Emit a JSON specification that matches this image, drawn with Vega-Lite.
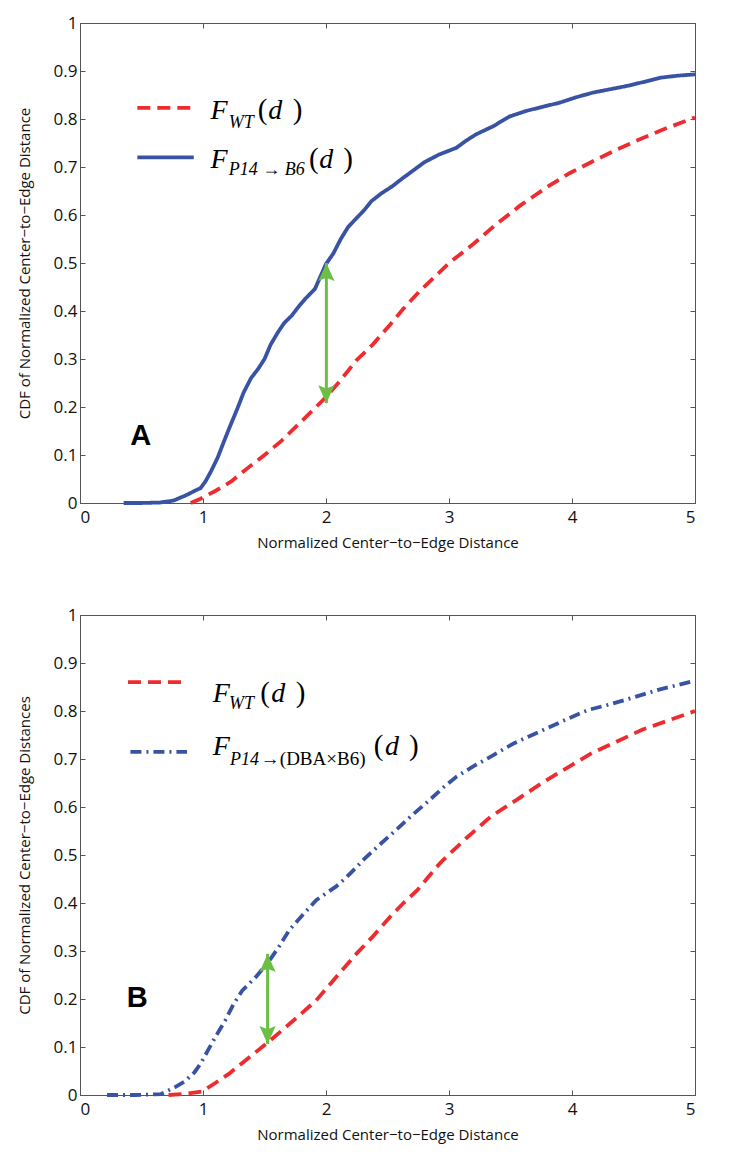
{
  "$schema": "https://vega.github.io/schema/vega-lite/v6.json",
  "padding": {"left": 16, "top": 13, "right": 5, "bottom": 5},
  "spacing": 54,
  "config": {
    "view": {"stroke": "#555", "strokeWidth": 1},
    "axis": {"grid": false, "domainColor": "#555", "tickColor": "#555", "tickSize": -5, "labelFont": "Open Sans", "labelFontSize": 17, "labelColor": "#111", "titleFont": "Open Sans", "titleFontSize": 15, "titleFontWeight": "normal", "titleColor": "#111"}
  },
  "vconcat": [
    {
      "width": 615,
      "height": 480,
      "layer": [
        {
          "data": {"values": [
            {"s":"P14","k":"c","x":0.355,"y":0},{"s":"P14","k":"c","x":0.5,"y":0},{"s":"P14","k":"c","x":0.65,"y":0.001},{"s":"P14","k":"c","x":0.76,"y":0.005},{"s":"P14","k":"c","x":0.87,"y":0.017},{"s":"P14","k":"c","x":0.93,"y":0.025},{"s":"P14","k":"c","x":0.98,"y":0.031},{"s":"P14","k":"c","x":1.02,"y":0.045},{"s":"P14","k":"c","x":1.065,"y":0.066},{"s":"P14","k":"c","x":1.12,"y":0.095},{"s":"P14","k":"c","x":1.17,"y":0.128},{"s":"P14","k":"c","x":1.22,"y":0.16},{"s":"P14","k":"c","x":1.28,"y":0.197},{"s":"P14","k":"c","x":1.33,"y":0.23},{"s":"P14","k":"c","x":1.39,"y":0.26},{"s":"P14","k":"c","x":1.45,"y":0.28},{"s":"P14","k":"c","x":1.5,"y":0.3},{"s":"P14","k":"c","x":1.55,"y":0.33},{"s":"P14","k":"c","x":1.61,"y":0.356},{"s":"P14","k":"c","x":1.66,"y":0.375},{"s":"P14","k":"c","x":1.72,"y":0.39},{"s":"P14","k":"c","x":1.78,"y":0.41},{"s":"P14","k":"c","x":1.83,"y":0.425},{"s":"P14","k":"c","x":1.91,"y":0.446},{"s":"P14","k":"c","x":1.96,"y":0.475},{"s":"P14","k":"c","x":2.0,"y":0.498},{"s":"P14","k":"c","x":2.06,"y":0.52},{"s":"P14","k":"c","x":2.12,"y":0.55},{"s":"P14","k":"c","x":2.18,"y":0.575},{"s":"P14","k":"c","x":2.25,"y":0.594},{"s":"P14","k":"c","x":2.31,"y":0.61},{"s":"P14","k":"c","x":2.37,"y":0.629},{"s":"P14","k":"c","x":2.45,"y":0.645},{"s":"P14","k":"c","x":2.54,"y":0.66},{"s":"P14","k":"c","x":2.62,"y":0.676},{"s":"P14","k":"c","x":2.7,"y":0.691},{"s":"P14","k":"c","x":2.8,"y":0.71},{"s":"P14","k":"c","x":2.92,"y":0.726},{"s":"P14","k":"c","x":3.06,"y":0.74},{"s":"P14","k":"c","x":3.14,"y":0.755},{"s":"P14","k":"c","x":3.22,"y":0.768},{"s":"P14","k":"c","x":3.36,"y":0.785},{"s":"P14","k":"c","x":3.49,"y":0.805},{"s":"P14","k":"c","x":3.63,"y":0.817},{"s":"P14","k":"c","x":3.77,"y":0.826},{"s":"P14","k":"c","x":3.9,"y":0.834},{"s":"P14","k":"c","x":4.03,"y":0.845},{"s":"P14","k":"c","x":4.17,"y":0.855},{"s":"P14","k":"c","x":4.31,"y":0.862},{"s":"P14","k":"c","x":4.45,"y":0.869},{"s":"P14","k":"c","x":4.58,"y":0.877},{"s":"P14","k":"c","x":4.72,"y":0.886},{"s":"P14","k":"c","x":4.85,"y":0.89},{"s":"P14","k":"c","x":5.0,"y":0.893},
            {"s":"WT","k":"c","x":0.9,"y":0},{"s":"WT","k":"c","x":0.98,"y":0.009},{"s":"WT","k":"c","x":1.1,"y":0.025},{"s":"WT","k":"c","x":1.23,"y":0.045},{"s":"WT","k":"c","x":1.35,"y":0.07},{"s":"WT","k":"c","x":1.5,"y":0.1},{"s":"WT","k":"c","x":1.64,"y":0.13},{"s":"WT","k":"c","x":1.8,"y":0.17},{"s":"WT","k":"c","x":1.99,"y":0.218},{"s":"WT","k":"c","x":2.1,"y":0.25},{"s":"WT","k":"c","x":2.25,"y":0.298},{"s":"WT","k":"c","x":2.38,"y":0.33},{"s":"WT","k":"c","x":2.51,"y":0.368},{"s":"WT","k":"c","x":2.63,"y":0.405},{"s":"WT","k":"c","x":2.76,"y":0.441},{"s":"WT","k":"c","x":2.88,"y":0.47},{"s":"WT","k":"c","x":3.0,"y":0.5},{"s":"WT","k":"c","x":3.1,"y":0.52},{"s":"WT","k":"c","x":3.2,"y":0.54},{"s":"WT","k":"c","x":3.38,"y":0.58},{"s":"WT","k":"c","x":3.58,"y":0.62},{"s":"WT","k":"c","x":3.79,"y":0.657},{"s":"WT","k":"c","x":3.98,"y":0.687},{"s":"WT","k":"c","x":4.17,"y":0.712},{"s":"WT","k":"c","x":4.37,"y":0.737},{"s":"WT","k":"c","x":4.58,"y":0.761},{"s":"WT","k":"c","x":4.78,"y":0.782},{"s":"WT","k":"c","x":5.0,"y":0.803},
            {"s":"WT","k":"k","x":0.466,"y":0.823},{"s":"WT","k":"k","x":0.925,"y":0.823},
            {"s":"P14","k":"k","x":0.466,"y":0.72},{"s":"P14","k":"k","x":0.925,"y":0.72}
          ]},
          "mark": {"type": "line", "strokeWidth": 3.8, "strokeCap": "butt"},
          "encoding": {
            "x": {"field": "x", "type": "quantitative", "scale": {"domain": [0, 5], "nice": false}, "axis": {"orient": "bottom", "values": [0,1,2,3,4,5], "format": "d", "labelPadding": 11, "title": "Normalized Center−to−Edge Distance", "titlePadding": 10}},
            "y": {"field": "y", "type": "quantitative", "scale": {"domain": [0, 1], "nice": false}, "axis": {"orient": "left", "values": [0,0.1,0.2,0.3,0.4,0.5,0.6,0.7,0.8,0.9,1], "labelExpr": "'' + datum.value", "labelPadding": 8, "title": "CDF  of Normalized Center−to−Edge Distance", "titlePadding": 21}},
            "color": {"field": "s", "type": "nominal", "scale": {"domain": ["WT", "P14", "DBA"], "range": ["#ee2b2f", "#3953a4", "#3953a4"]}, "legend": null},
            "strokeDash": {"field": "s", "type": "nominal", "scale": {"domain": ["WT", "P14", "DBA"], "range": [[13, 7], [1, 0], [11, 5, 2, 5]]}, "legend": null},
            "detail": {"field": "k", "type": "nominal"}
          }
        },
        {
          "data": {"values": [{"x": 2.003, "top": 0.5, "bot": 0.208}]},
          "mark": {"type": "rule", "color": "#6cbe45", "strokeWidth": 3},
          "encoding": {
            "x": {"field": "x", "type": "quantitative", "scale": {"domain": [0, 5], "nice": false}, "axis": {"orient": "top", "values": [0,1,2,3,4,5], "labels": false, "title": null}},
            "y": {"field": "top", "type": "quantitative", "scale": {"domain": [0, 1], "nice": false}, "axis": {"orient": "right", "values": [0,0.1,0.2,0.3,0.4,0.5,0.6,0.7,0.8,0.9,1], "labels": false, "title": null}},
            "y2": {"field": "bot"}
          }
        },
        {
          "data": {"values": [{"x": 2.003, "top": 0.5, "bot": 0.208}]},
          "mark": {"type": "point", "filled": true, "color": "#6cbe45", "opacity": 1, "size": 1296, "shape": "M0,0L0.45,1L0,0.82L-0.45,1Z"},
          "encoding": {
            "x": {"field": "x", "type": "quantitative", "scale": {"domain": [0, 5], "nice": false}, "axis": null},
            "y": {"field": "top", "type": "quantitative", "scale": {"domain": [0, 1], "nice": false}, "axis": null}
          }
        },
        {
          "data": {"values": [{"x": 2.003, "top": 0.5, "bot": 0.208}]},
          "mark": {"type": "point", "filled": true, "color": "#6cbe45", "opacity": 1, "size": 1296, "shape": "M0,0L0.45,-1L0,-0.82L-0.45,-1Z"},
          "encoding": {
            "x": {"field": "x", "type": "quantitative", "scale": {"domain": [0, 5], "nice": false}, "axis": null},
            "y": {"field": "bot", "type": "quantitative", "scale": {"domain": [0, 1], "nice": false}, "axis": null}
          }
        },
        {
          "data": {"values": [{"t":"F","x":1.061,"y":0.8},{"t":"d","x":1.53,"y":0.8},{"t":"F","x":1.061,"y":0.698},{"t":"d","x":1.945,"y":0.698}]},
          "mark": {"type": "text", "font": "Liberation Serif", "fontStyle": "italic", "fontSize": 28, "align": "left", "baseline": "alphabetic", "color": "#000"},
          "encoding": {
            "x": {"field": "x", "type": "quantitative", "scale": {"domain": [0, 5], "nice": false}, "axis": null},
            "y": {"field": "y", "type": "quantitative", "scale": {"domain": [0, 1], "nice": false}, "axis": null},
            "text": {"field": "t"}
          }
        },
        {
          "data": {"values": [{"t":"(","x":1.446,"y":0.8},{"t":")","x":1.73,"y":0.8},{"t":"(","x":1.862,"y":0.698},{"t":")","x":2.14,"y":0.698}]},
          "mark": {"type": "text", "font": "Liberation Serif", "fontSize": 29, "align": "left", "baseline": "alphabetic", "color": "#000"},
          "encoding": {
            "x": {"field": "x", "type": "quantitative", "scale": {"domain": [0, 5], "nice": false}, "axis": null},
            "y": {"field": "y", "type": "quantitative", "scale": {"domain": [0, 1], "nice": false}, "axis": null},
            "text": {"field": "t"}
          }
        },
        {
          "data": {"values": [{"t":"WT","x":1.209,"y":0.781},{"t":"P14 → B6","x":1.209,"y":0.683}]},
          "mark": {"type": "text", "font": "Liberation Serif", "fontStyle": "italic", "fontSize": 18, "align": "left", "baseline": "alphabetic", "color": "#000"},
          "encoding": {
            "x": {"field": "x", "type": "quantitative", "scale": {"domain": [0, 5], "nice": false}, "axis": null},
            "y": {"field": "y", "type": "quantitative", "scale": {"domain": [0, 1], "nice": false}, "axis": null},
            "text": {"field": "t"}
          }
        },
        {
          "data": {"values": [{"t":"A","x":0.493,"y":0.139}]},
          "mark": {"type": "text", "font": "Liberation Sans", "fontWeight": "bold", "fontSize": 29, "align": "center", "baseline": "middle", "color": "#000"},
          "encoding": {
            "x": {"field": "x", "type": "quantitative", "scale": {"domain": [0, 5], "nice": false}, "axis": null},
            "y": {"field": "y", "type": "quantitative", "scale": {"domain": [0, 1], "nice": false}, "axis": null},
            "text": {"field": "t"}
          }
        }
      ],
      "resolve": {"axis": {"x": "independent", "y": "independent"}}
    },
    {
      "width": 615,
      "height": 480,
      "layer": [
        {
          "data": {"values": [
            {"s":"DBA","k":"c","x":0.22,"y":0},{"s":"DBA","k":"c","x":0.45,"y":0},{"s":"DBA","k":"c","x":0.66,"y":0.002},{"s":"DBA","k":"c","x":0.77,"y":0.016},{"s":"DBA","k":"c","x":0.85,"y":0.028},{"s":"DBA","k":"c","x":0.93,"y":0.047},{"s":"DBA","k":"c","x":0.98,"y":0.065},{"s":"DBA","k":"c","x":1.04,"y":0.093},{"s":"DBA","k":"c","x":1.11,"y":0.125},{"s":"DBA","k":"c","x":1.18,"y":0.155},{"s":"DBA","k":"c","x":1.25,"y":0.19},{"s":"DBA","k":"c","x":1.32,"y":0.218},{"s":"DBA","k":"c","x":1.43,"y":0.246},{"s":"DBA","k":"c","x":1.54,"y":0.28},{"s":"DBA","k":"c","x":1.62,"y":0.31},{"s":"DBA","k":"c","x":1.7,"y":0.343},{"s":"DBA","k":"c","x":1.81,"y":0.375},{"s":"DBA","k":"c","x":1.92,"y":0.406},{"s":"DBA","k":"c","x":2.0,"y":0.42},{"s":"DBA","k":"c","x":2.08,"y":0.434},{"s":"DBA","k":"c","x":2.16,"y":0.452},{"s":"DBA","k":"c","x":2.25,"y":0.475},{"s":"DBA","k":"c","x":2.3,"y":0.489},{"s":"DBA","k":"c","x":2.43,"y":0.52},{"s":"DBA","k":"c","x":2.57,"y":0.552},{"s":"DBA","k":"c","x":2.7,"y":0.583},{"s":"DBA","k":"c","x":2.84,"y":0.614},{"s":"DBA","k":"c","x":2.95,"y":0.64},{"s":"DBA","k":"c","x":3.06,"y":0.663},{"s":"DBA","k":"c","x":3.2,"y":0.685},{"s":"DBA","k":"c","x":3.34,"y":0.705},{"s":"DBA","k":"c","x":3.53,"y":0.733},{"s":"DBA","k":"c","x":3.77,"y":0.761},{"s":"DBA","k":"c","x":3.95,"y":0.782},{"s":"DBA","k":"c","x":4.13,"y":0.802},{"s":"DBA","k":"c","x":4.28,"y":0.812},{"s":"DBA","k":"c","x":4.43,"y":0.823},{"s":"DBA","k":"c","x":4.56,"y":0.833},{"s":"DBA","k":"c","x":4.7,"y":0.844},{"s":"DBA","k":"c","x":4.84,"y":0.853},{"s":"DBA","k":"c","x":5.0,"y":0.863},
            {"s":"WT","k":"c","x":0.72,"y":0},{"s":"WT","k":"c","x":0.85,"y":0.002},{"s":"WT","k":"c","x":0.99,"y":0.007},{"s":"WT","k":"c","x":1.1,"y":0.025},{"s":"WT","k":"c","x":1.21,"y":0.044},{"s":"WT","k":"c","x":1.36,"y":0.075},{"s":"WT","k":"c","x":1.51,"y":0.106},{"s":"WT","k":"c","x":1.64,"y":0.134},{"s":"WT","k":"c","x":1.78,"y":0.165},{"s":"WT","k":"c","x":1.92,"y":0.197},{"s":"WT","k":"c","x":2.08,"y":0.245},{"s":"WT","k":"c","x":2.25,"y":0.295},{"s":"WT","k":"c","x":2.38,"y":0.33},{"s":"WT","k":"c","x":2.52,"y":0.371},{"s":"WT","k":"c","x":2.63,"y":0.4},{"s":"WT","k":"c","x":2.74,"y":0.426},{"s":"WT","k":"c","x":2.9,"y":0.475},{"s":"WT","k":"c","x":2.95,"y":0.489},{"s":"WT","k":"c","x":3.14,"y":0.535},{"s":"WT","k":"c","x":3.34,"y":0.58},{"s":"WT","k":"c","x":3.55,"y":0.615},{"s":"WT","k":"c","x":3.75,"y":0.649},{"s":"WT","k":"c","x":3.95,"y":0.68},{"s":"WT","k":"c","x":4.16,"y":0.712},{"s":"WT","k":"c","x":4.37,"y":0.737},{"s":"WT","k":"c","x":4.57,"y":0.761},{"s":"WT","k":"c","x":4.78,"y":0.78},{"s":"WT","k":"c","x":5.0,"y":0.8},
            {"s":"WT","k":"k","x":0.39,"y":0.86},{"s":"WT","k":"k","x":0.85,"y":0.86},
            {"s":"DBA","k":"k","x":0.41,"y":0.715},{"s":"DBA","k":"k","x":0.87,"y":0.715}
          ]},
          "mark": {"type": "line", "strokeWidth": 3.8, "strokeCap": "butt"},
          "encoding": {
            "x": {"field": "x", "type": "quantitative", "scale": {"domain": [0, 5], "nice": false}, "axis": {"orient": "bottom", "values": [0,1,2,3,4,5], "format": "d", "labelPadding": 11, "title": "Normalized Center−to−Edge Distance", "titlePadding": 10}},
            "y": {"field": "y", "type": "quantitative", "scale": {"domain": [0, 1], "nice": false}, "axis": {"orient": "left", "values": [0,0.1,0.2,0.3,0.4,0.5,0.6,0.7,0.8,0.9,1], "labelExpr": "'' + datum.value", "labelPadding": 8, "title": "CDF of Normalized Center−to−Edge Distances", "titlePadding": 21}},
            "color": {"field": "s", "type": "nominal", "scale": {"domain": ["WT", "P14", "DBA"], "range": ["#ee2b2f", "#3953a4", "#3953a4"]}, "legend": null},
            "strokeDash": {"field": "s", "type": "nominal", "scale": {"domain": ["WT", "P14", "DBA"], "range": [[13, 7], [1, 0], [11, 5, 2, 5]]}, "legend": null},
            "detail": {"field": "k", "type": "nominal"}
          }
        },
        {
          "data": {"values": [{"x": 1.525, "top": 0.294, "bot": 0.106}]},
          "mark": {"type": "rule", "color": "#6cbe45", "strokeWidth": 3},
          "encoding": {
            "x": {"field": "x", "type": "quantitative", "scale": {"domain": [0, 5], "nice": false}, "axis": {"orient": "top", "values": [0,1,2,3,4,5], "labels": false, "title": null}},
            "y": {"field": "top", "type": "quantitative", "scale": {"domain": [0, 1], "nice": false}, "axis": {"orient": "right", "values": [0,0.1,0.2,0.3,0.4,0.5,0.6,0.7,0.8,0.9,1], "labels": false, "title": null}},
            "y2": {"field": "bot"}
          }
        },
        {
          "data": {"values": [{"x": 1.525, "top": 0.294, "bot": 0.106}]},
          "mark": {"type": "point", "filled": true, "color": "#6cbe45", "opacity": 1, "size": 1296, "shape": "M0,0L0.45,1L0,0.82L-0.45,1Z"},
          "encoding": {
            "x": {"field": "x", "type": "quantitative", "scale": {"domain": [0, 5], "nice": false}, "axis": null},
            "y": {"field": "top", "type": "quantitative", "scale": {"domain": [0, 1], "nice": false}, "axis": null}
          }
        },
        {
          "data": {"values": [{"x": 1.525, "top": 0.294, "bot": 0.106}]},
          "mark": {"type": "point", "filled": true, "color": "#6cbe45", "opacity": 1, "size": 1296, "shape": "M0,0L0.45,-1L0,-0.82L-0.45,-1Z"},
          "encoding": {
            "x": {"field": "x", "type": "quantitative", "scale": {"domain": [0, 5], "nice": false}, "axis": null},
            "y": {"field": "bot", "type": "quantitative", "scale": {"domain": [0, 1], "nice": false}, "axis": null}
          }
        },
        {
          "data": {"values": [{"t":"F","x":1.08,"y":0.818},{"t":"d","x":1.555,"y":0.818},{"t":"F","x":1.08,"y":0.708},{"t":"d","x":2.48,"y":0.708}]},
          "mark": {"type": "text", "font": "Liberation Serif", "fontStyle": "italic", "fontSize": 28, "align": "left", "baseline": "alphabetic", "color": "#000"},
          "encoding": {
            "x": {"field": "x", "type": "quantitative", "scale": {"domain": [0, 5], "nice": false}, "axis": null},
            "y": {"field": "y", "type": "quantitative", "scale": {"domain": [0, 1], "nice": false}, "axis": null},
            "text": {"field": "t"}
          }
        },
        {
          "data": {"values": [{"t":"(","x":1.465,"y":0.818},{"t":")","x":1.755,"y":0.818},{"t":"(","x":2.389,"y":0.708},{"t":")","x":2.675,"y":0.708}]},
          "mark": {"type": "text", "font": "Liberation Serif", "fontSize": 29, "align": "left", "baseline": "alphabetic", "color": "#000"},
          "encoding": {
            "x": {"field": "x", "type": "quantitative", "scale": {"domain": [0, 5], "nice": false}, "axis": null},
            "y": {"field": "y", "type": "quantitative", "scale": {"domain": [0, 1], "nice": false}, "axis": null},
            "text": {"field": "t"}
          }
        },
        {
          "data": {"values": [{"t":"WT","x":1.211,"y":0.804},{"t":"P14","x":1.219,"y":0.687}]},
          "mark": {"type": "text", "font": "Liberation Serif", "fontStyle": "italic", "fontSize": 18, "align": "left", "baseline": "alphabetic", "color": "#000"},
          "encoding": {
            "x": {"field": "x", "type": "quantitative", "scale": {"domain": [0, 5], "nice": false}, "axis": null},
            "y": {"field": "y", "type": "quantitative", "scale": {"domain": [0, 1], "nice": false}, "axis": null},
            "text": {"field": "t"}
          }
        },
        {
          "data": {"values": [{"t":"→(DBA×B6)","x":1.47,"y":0.687}]},
          "mark": {"type": "text", "font": "Liberation Serif", "fontSize": 19, "align": "left", "baseline": "alphabetic", "color": "#000"},
          "encoding": {
            "x": {"field": "x", "type": "quantitative", "scale": {"domain": [0, 5], "nice": false}, "axis": null},
            "y": {"field": "y", "type": "quantitative", "scale": {"domain": [0, 1], "nice": false}, "axis": null},
            "text": {"field": "t"}
          }
        },
        {
          "data": {"values": [{"t":"B","x":0.466,"y":0.203}]},
          "mark": {"type": "text", "font": "Liberation Sans", "fontWeight": "bold", "fontSize": 29, "align": "center", "baseline": "middle", "color": "#000"},
          "encoding": {
            "x": {"field": "x", "type": "quantitative", "scale": {"domain": [0, 5], "nice": false}, "axis": null},
            "y": {"field": "y", "type": "quantitative", "scale": {"domain": [0, 1], "nice": false}, "axis": null},
            "text": {"field": "t"}
          }
        }
      ],
      "resolve": {"axis": {"x": "independent", "y": "independent"}}
    }
  ]
}
